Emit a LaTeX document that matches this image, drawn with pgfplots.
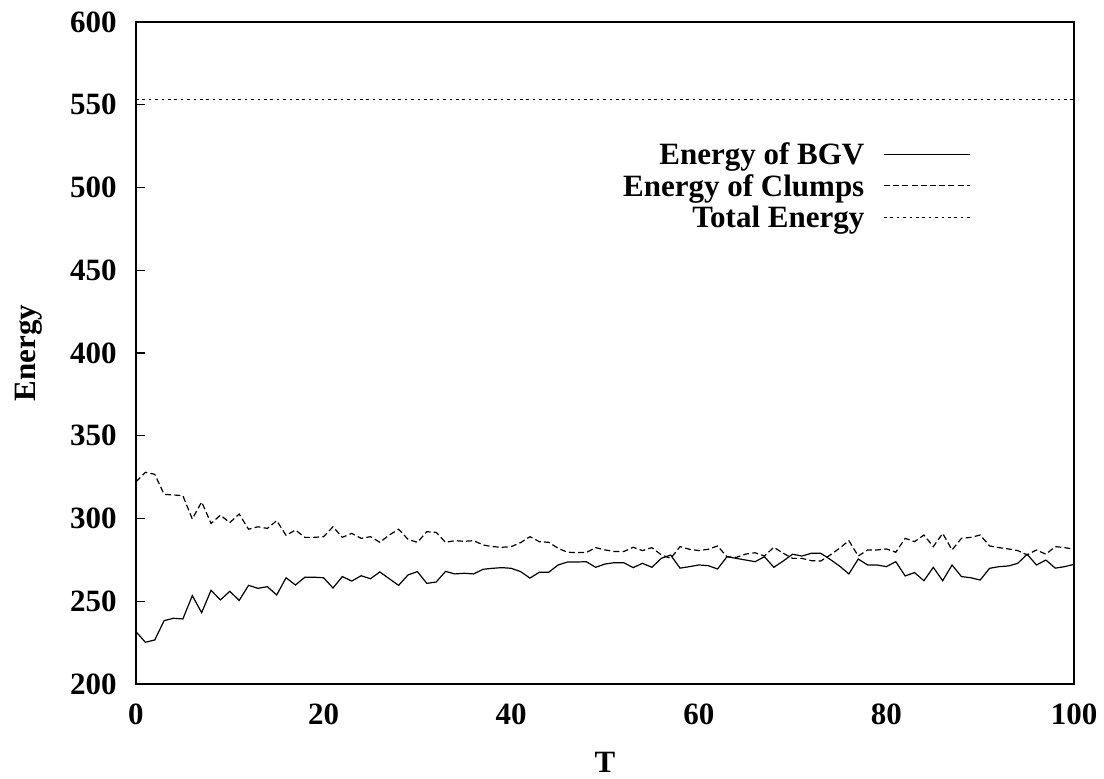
\documentclass[border=0pt]{standalone}
\usepackage{fontspec}
\setmainfont{Liberation Serif}
\usepackage{pgfplots}
\pgfplotsset{compat=1.18}
\newcommand{\bigfont}{\fontsize{15.5}{18}\selectfont\bfseries}
\begin{document}
\begin{tikzpicture}
\begin{axis}[
  scale only axis,
  width=469pt, height=331pt,
  xmin=0, xmax=100, ymin=200, ymax=600,
  xtick={0,20,40,60,80,100},
  ytick={200,250,300,350,400,450,500,550,600},
  axis line style={line width=1pt},
  tick style={black, line width=0.6pt},
  major tick length=4.5pt,
  xtick style={draw=none},
  ytick pos=left,
  tick align=inside,
  /pgf/number format/assume math mode=true,
  ticklabel style={font=\bigfont},
  yticklabel style={inner sep=0pt, anchor=east, xshift=-9.5pt},
  xticklabel style={inner sep=0pt, anchor=north, yshift=-9.5pt},
  xlabel={T}, ylabel={Energy},
  every axis x label/.style={at={(rel axis cs:0.5,0)}, anchor=center, yshift=-39pt, font=\bigfont},
  every axis y label/.style={at={(rel axis cs:0,0.5)}, xshift=-53.5pt, anchor=center, rotate=90, font=\bigfont},
  legend style={draw=none, fill=none, at={(rel axis cs:0.8965,0.8245)}, anchor=north east,
    font=\bigfont, column sep=9.5pt,
    nodes={inner sep=0pt, text height=11pt, text depth=4.75pt}},
  legend cell align=right,
  legend plot pos=right,
  legend image code/.code={\draw[#1] (0pt,2pt) -- (43pt,2pt);},
]
\addplot[black, line width=0.6pt] coordinates {
(0,231.6)(1,225.2)(2,226.6)(3,238.3)(4,239.7)(5,239.3)(6,253.4)(7,243.1)(8,256.6)(9,250.8)
(10,256.0)(11,250.5)(12,259.6)(13,257.8)(14,258.8)(15,253.8)(16,264.2)(17,259.8)(18,264.5)(19,264.5)
(20,264.2)(21,258.0)(22,264.9)(23,262.2)(24,265.4)(25,263.6)(26,267.7)(27,263.6)(28,259.6)(29,265.9)
(30,267.9)(31,260.8)(32,261.6)(33,268.0)(34,266.5)(35,266.9)(36,266.5)(37,269.3)(38,269.9)(39,270.3)
(40,269.9)(41,267.9)(42,264.0)(43,267.5)(44,267.5)(45,271.9)(46,273.7)(47,273.7)(48,273.9)(49,270.5)
(50,272.5)(51,273.3)(52,273.3)(53,270.3)(54,272.9)(55,270.5)(56,275.9)(57,277.9)(58,270.0)(59,270.9)
(60,271.9)(61,271.5)(62,269.5)(63,276.9)(64,275.9)(65,274.9)(66,273.9)(67,276.9)(68,270.5)(69,274.3)
(70,278.4)(71,277.3)(72,279.0)(73,279.0)(74,275.3)(75,271.3)(76,266.5)(77,275.5)(78,271.9)(79,271.9)
(80,270.9)(81,273.9)(82,265.3)(83,267.3)(84,262.4)(85,270.5)(86,262.4)(87,271.9)(88,264.9)(89,264.2)
(90,262.8)(91,269.9)(92,270.9)(93,271.3)(94,272.9)(95,278.4)(96,271.9)(97,274.9)(98,270.0)(99,270.9)
(100,272.3)};
\addlegendentry{Energy of BGV}
\addplot[black, line width=0.6pt, dash pattern=on 3pt off 1.6pt] coordinates {
(0,322.2)(1,327.9)(2,326.7)(3,314.6)(4,314.2)(5,313.8)(6,299.7)(7,310.0)(8,297.0)(9,302.0)
(10,297.5)(11,302.7)(12,293.5)(13,295.0)(14,294.0)(15,298.7)(16,289.8)(17,293.0)(18,288.6)(19,288.6)
(20,289.0)(21,295.0)(22,288.6)(23,291.0)(24,288.0)(25,289.0)(26,285.6)(27,290.0)(28,293.5)(29,287.4)
(30,285.6)(31,292.0)(32,291.6)(33,285.6)(34,286.6)(35,286.2)(36,286.6)(37,284.0)(38,283.0)(39,282.6)
(40,283.0)(41,285.4)(42,289.0)(43,286.0)(44,285.6)(45,282.0)(46,279.6)(47,279.4)(48,279.4)(49,282.4)
(50,281.0)(51,280.0)(52,280.0)(53,282.6)(54,280.6)(55,282.4)(56,278.0)(57,275.9)(58,283.0)(59,281.4)
(60,280.6)(61,281.4)(62,283.4)(63,276.9)(64,276.5)(65,278.5)(66,279.3)(67,277.3)(68,282.6)(69,279.0)
(70,275.9)(71,275.9)(72,274.5)(73,274.3)(74,277.9)(75,282.0)(76,286.6)(77,277.3)(78,281.0)(79,281.0)
(80,281.6)(81,279.6)(82,288.0)(83,286.0)(84,290.0)(85,283.0)(86,291.0)(87,281.0)(88,288.0)(89,288.6)
(90,290.0)(91,283.4)(92,282.4)(93,281.6)(94,280.6)(95,278.0)(96,281.0)(97,278.4)(98,283.0)(99,282.4)
(100,281.4)};
\addlegendentry{Energy of Clumps}
\addplot[black, line width=0.6pt, dash pattern=on 1.3pt off 1.9pt] coordinates {(0,553) (100,553)};
\addlegendentry{Total Energy}
\end{axis}
\useasboundingbox ([shift={(-68pt,-47.5pt)}]current axis.south west) rectangle ([shift={(15pt,11pt)}]current axis.north east);
\end{tikzpicture}
\end{document}
